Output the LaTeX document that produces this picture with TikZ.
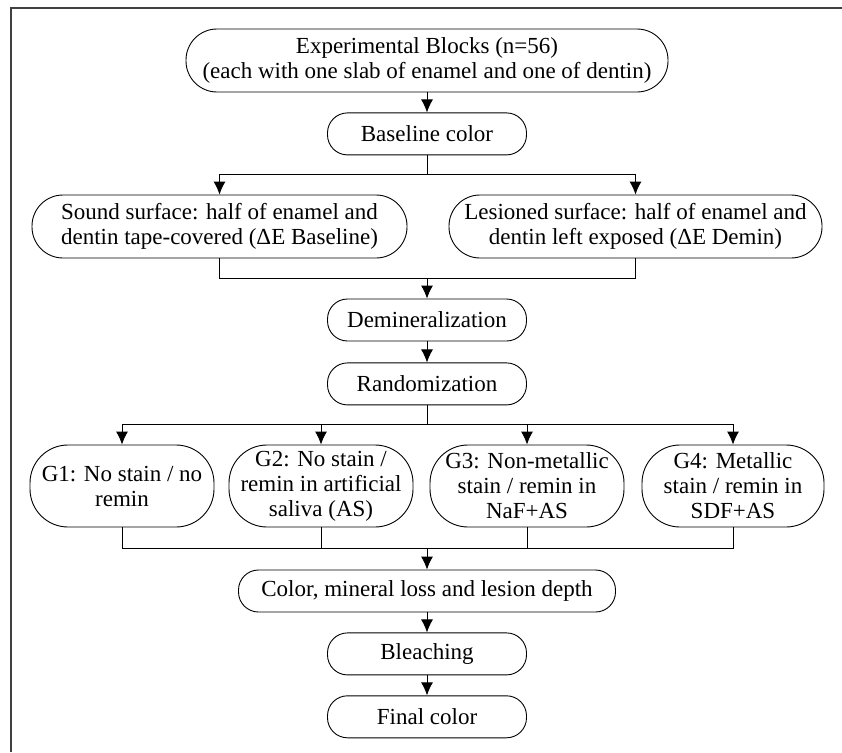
\documentclass[tikz,border=0pt]{standalone}
\usepackage{fontspec}
\setmainfont{Liberation Serif}
\usetikzlibrary{arrows.meta,positioning}
\tikzstyle{block} = [rectangle, draw, text centered, align=center, rounded corners=20pt, line width=0.9pt, inner sep=0pt, minimum height=42pt, minimum width=199pt]
\tikzstyle{wideblock} = [block, rounded corners=31pt, minimum height=63pt]
\tikzstyle{groupblock} = [block, rounded corners=38pt, minimum height=82pt, minimum width=184pt]
\tikzstyle{line} = [draw, line width=0.9pt, -{Latex[length=13pt,width=12pt]}]

\begin{document}
\begin{tikzpicture}[x=1pt, y=-1pt, font=\fontsize{23}{25}\selectfont]
\useasboundingbox (0,0) rectangle (842,752);
\draw [black!75, line width=1.6pt] (11,752) -- (11,8) -- (842,8);
\node [wideblock, minimum width=482pt] (blocks) at (427,60.5) {Experimental Blocks (n=56)\\(each with one slab of enamel and one of dentin)};
\node [block, below=20pt of blocks] (base) {Baseline color};
\node [wideblock, minimum width=375pt] (sound) at (219.5,226.5) {Sound surface: half of enamel and\\dentin tape-covered (ΔE Baseline)};
\node [wideblock, minimum width=373pt] (lesion) at (635.5,226.5) {Lesioned surface: half of enamel and\\dentin left exposed (ΔE Demin)};
\node [block] (demin) at (427,320) {Demineralization};
\node [block, below=21pt of demin] (random) {Randomization};
\node [groupblock] (g1) at (122,486) {G1: No stain / no\\remin};
\node [groupblock] (g2) at (321,486) {G2: No stain /\\remin in artificial\\saliva (AS)};
\node [groupblock, minimum width=194pt] (g3) at (527,486) {G3: Non-metallic\\stain / remin in\\NaF+AS};
\node [groupblock, minimum width=182pt] (g4) at (733,486) {G4: Metallic\\stain / remin in\\SDF+AS};
\node [block, minimum width=377pt] (result) at (427,591) {Color, mineral loss and lesion depth};
\node [block, below=20pt of result] (bleach) {Bleaching};
\node [block, below=20pt of bleach] (final) {Final color};
\coordinate (split1) at (427,174);
\coordinate (join1) at (427,278);
\coordinate (split2) at (427,424);
\coordinate (join2) at (427,548);
\path [line] (blocks) -- (base);
\draw [line width=0.9pt] (base) -- (split1);
\path [line] (split1) -| (sound);
\path [line] (split1) -| (lesion);
\draw [line width=0.9pt] (sound) |- (join1);
\draw [line width=0.9pt] (lesion) |- (join1);
\path [line] (join1) -- (demin);
\path [line] (demin) -- (random);
\draw [line width=0.9pt] (random) -- (split2);
\foreach \g in {g1,g2,g3,g4} {
  \path [line] (split2) -| (\g);
  \draw [line width=0.9pt] (\g) |- (join2);
}
\path [line] (join2) -- (result);
\path [line] (result) -- (bleach);
\path [line] (bleach) -- (final);
\end{tikzpicture}
\end{document}
